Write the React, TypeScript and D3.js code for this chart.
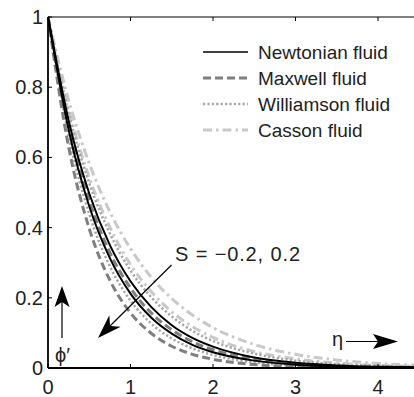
import React from "react";
import * as d3 from "d3";

const eta = [0, 0.25, 0.5, 0.75, 1, 1.25, 1.5, 1.75, 2, 2.5, 3, 3.5, 4, 4.5, 5];

const newtonianLow = [1, 0.679, 0.461, 0.313, 0.212, 0.144, 0.098, 0.066, 0.045, 0.021, 0.0096, 0.0044, 0.002, 0.001, 0.0005];
const newtonianHigh = [1, 0.705, 0.497, 0.35, 0.247, 0.174, 0.122, 0.086, 0.061, 0.03, 0.015, 0.0074, 0.0037, 0.0018, 0.0009];
const maxwellLow = [1, 0.63, 0.397, 0.25, 0.157, 0.099, 0.062, 0.039, 0.025, 0.0098, 0.0039, 0.0015, 0.0006, 0.0002, 0.0001];
const maxwellHigh = [1, 0.691, 0.477, 0.329, 0.228, 0.157, 0.109, 0.075, 0.052, 0.025, 0.012, 0.0056, 0.0027, 0.0013, 0.0006];
const williamsonLow = [1, 0.662, 0.438, 0.29, 0.192, 0.127, 0.084, 0.056, 0.037, 0.016, 0.0071, 0.0031, 0.0014, 0.0006, 0.0003];
const williamsonHigh = [1, 0.726, 0.527, 0.383, 0.278, 0.202, 0.147, 0.106, 0.077, 0.041, 0.021, 0.011, 0.006, 0.003, 0.0015];
const cassonLow = [1, 0.737, 0.543, 0.401, 0.295, 0.218, 0.16, 0.118, 0.087, 0.047, 0.026, 0.014, 0.0076, 0.0041, 0.002];
const cassonHigh = [1, 0.763, 0.583, 0.445, 0.34, 0.259, 0.198, 0.151, 0.115, 0.067, 0.039, 0.023, 0.013, 0.0077, 0.004];

const xTicks = [0, 1, 2, 3, 4];
const yTicks = [0, 0.2, 0.4, 0.6, 0.8, 1];
const yTickLabels = ["0", "0.2", "0.4", "0.6", "0.8", "1"];

const legendLabels = ["Newtonian fluid", "Maxwell fluid", "Williamson fluid", "Casson fluid"];

const styles = [
  { color: "#000000", width: 2, dash: "" },
  { color: "#7f7f7f", width: 3, dash: "8 4" },
  { color: "#a6a6a6", width: 2.5, dash: "2.2 2.2" },
  { color: "#c9c9c9", width: 3, dash: "9 4 2.5 4" },
];

const seriesList = [
  { values: cassonHigh, s: 3 },
  { values: cassonLow, s: 3 },
  { values: williamsonHigh, s: 2 },
  { values: williamsonLow, s: 2 },
  { values: maxwellHigh, s: 1 },
  { values: maxwellLow, s: 1 },
  { values: newtonianHigh, s: 0 },
  { values: newtonianLow, s: 0 },
];

const FONT = "Liberation Sans, Arial, Helvetica, sans-serif";

export default function App() {
  const W = 414;
  const H = 397;
  const x = d3.scaleLinear().domain([0, 5]).range([48, 48 + 5 * 82.5]);
  const y = d3.scaleLinear().domain([0, 1]).range([368, 17]);
  const line = d3
    .line<number>()
    .x((_, i) => x(eta[i]))
    .y((d) => y(d))
    .curve(d3.curveMonotoneX);

  const left = x(0);
  const right = x(5);
  const top = y(1);
  const bottom = y(0);

  return (
    <svg
      width={W}
      height={H}
      style={{ position: "absolute", left: 0, top: 0, background: "#fff" }}
      fontFamily={FONT}
    >
      <defs>
        <clipPath id="plot">
          <rect x={left} y={top - 2} width={right - left} height={bottom - top + 2} />
        </clipPath>
      </defs>
      <g clipPath="url(#plot)">
        {seriesList.map((s, i) => (
          <path
            key={i}
            d={line(s.values) || ""}
            fill="none"
            stroke={styles[s.s].color}
            strokeWidth={styles[s.s].width}
            strokeDasharray={styles[s.s].dash}
          />
        ))}
      </g>
      {/* frame */}
      <line x1={left} x2={W} y1={top} y2={top} stroke="#000" strokeWidth={1.2} />
      <line x1={left} x2={W} y1={bottom} y2={bottom} stroke="#000" strokeWidth={1.8} />
      <line x1={left} x2={left} y1={top} y2={bottom} stroke="#000" strokeWidth={1.8} />
      {/* x ticks */}
      {xTicks.map((t) => (
        <g key={"x" + t}>
          <line x1={x(t)} x2={x(t)} y1={bottom} y2={bottom - 4} stroke="#000" strokeWidth={1} />
          <line x1={x(t)} x2={x(t)} y1={top} y2={top + 4} stroke="#000" strokeWidth={1} />
          <text x={x(t)} y={394} fontSize={20} textAnchor="middle" fill="#222">
            {t}
          </text>
        </g>
      ))}
      {yTicks.map((t, i) => (
        <g key={"y" + t}>
          <line x1={left} x2={left + 4} y1={y(t)} y2={y(t)} stroke="#000" strokeWidth={1} />
          <text x={43} y={y(t) + 7} fontSize={20} textAnchor="end" fill="#222">
            {yTickLabels[i]}
          </text>
        </g>
      ))}
      {/* legend */}
      {legendLabels.map((lab, i) => {
        const ly = 52 + i * 26;
        return (
          <g key={lab}>
            <line
              x1={203}
              x2={248}
              y1={ly}
              y2={ly}
              stroke={styles[i].color}
              strokeWidth={i === 0 ? 1.5 : styles[i].width}
              strokeDasharray={styles[i].dash}
            />
            <text x={258} y={ly + 7} fontSize={19} fill="#222">
              {lab}
            </text>
          </g>
        );
      })}
      {/* S annotation */}
      <text x={175} y={261} fontSize={20} fill="#222" textLength={125} lengthAdjust="spacing">
        S = −0.2, 0.2
      </text>
      <line x1={171.5} y1={265} x2={108} y2={328} stroke="#000" strokeWidth={1.2} />
      <path d="M98,338 L109.3,315.3 L110,326 L120.7,326.7 Z" fill="#000" />
      {/* phi' arrow */}
      <line x1={62} y1={338} x2={62} y2={300} stroke="#000" strokeWidth={1.2} />
      <path d="M62,286 L54.5,307 L62,302 L69.5,307 Z" fill="#000" />
      <text x={55} y={362} fontSize={20} fill="#222">
        ϕ′
      </text>
      {/* eta arrow */}
      <text x={332} y={346} fontSize={20} fill="#222">
        η
      </text>
      <line x1={346} y1={341.5} x2={380} y2={341.5} stroke="#000" strokeWidth={1.2} />
      <path d="M398,341.5 L373,334 L378,341.5 L373,349 Z" fill="#000" />
    </svg>
  );
}
